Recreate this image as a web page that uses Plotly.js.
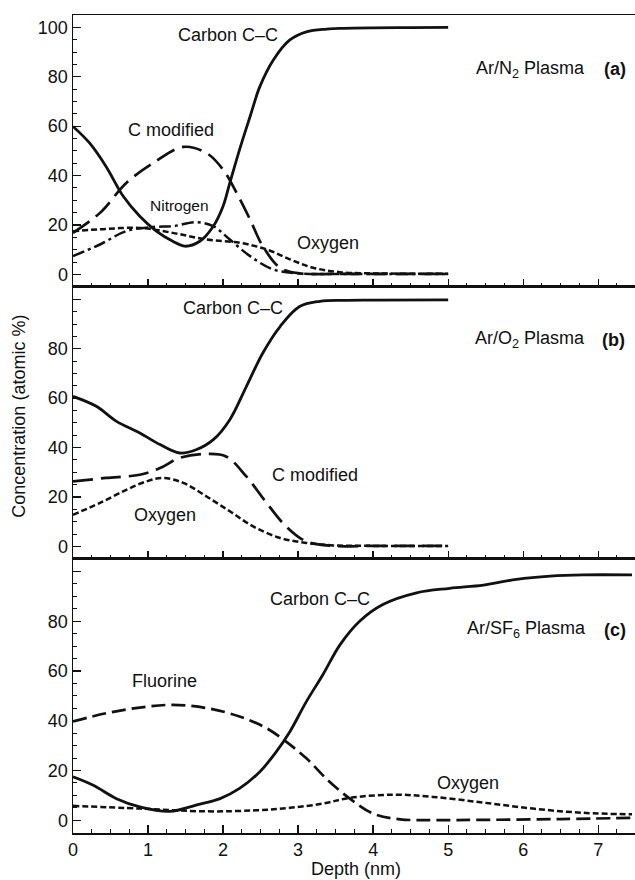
<!DOCTYPE html>
<html>
<head>
<meta charset="utf-8">
<script src="https://cdn.plot.ly/plotly-3.0.1.min.js"></script>
<style>html,body{margin:0;padding:0;background:#fff;}#chart{width:635px;height:880px;}</style>
</head>
<body>
<div id="chart"></div>
<script>
// ---------- Panel (a) Ar/N2 plasma ----------
const aCarbonX = [0, 0.22, 0.44, 0.67, 0.89, 1.11, 1.33, 1.49, 1.69, 1.87, 2.0, 2.09, 2.22, 2.36, 2.49, 2.67, 2.89, 3.11, 3.38, 3.6, 4.0, 4.5, 5.0];
const aCarbonY = [59.9, 53.2, 43.7, 31.6, 23.5, 17.5, 13.4, 11.4, 13.4, 19.5, 27.6, 37, 50.5, 63.9, 76, 86.8, 94.9, 98.2, 99.3, 99.6, 99.8, 99.9, 100];
const aCmodX = [0, 0.36, 0.71, 1.07, 1.47, 1.78, 2.0, 2.18, 2.36, 2.53, 2.76, 3.02, 3.5, 4.0, 5.0];
const aCmodY = [16.8, 24.9, 37, 45.1, 51.6, 49.1, 42.4, 33, 22.2, 11.4, 2.7, 0.4, 0.2, 0.2, 0.2];
const aNitrogenX = [0, 0.36, 0.71, 1.07, 1.33, 1.64, 1.87, 2.09, 2.36, 2.67, 3.02, 3.5, 4.0, 5.0];
const aNitrogenY = [7.4, 12.1, 17.5, 19.2, 19.5, 21.1, 19.5, 14.1, 7.4, 2, 0.4, 0.2, 0.2, 0.2];
const aOxygenX = [0, 0.44, 0.89, 1.33, 1.78, 2.22, 2.58, 2.89, 3.2, 3.56, 4.0, 4.5, 5.0];
const aOxygenY = [17.5, 18.4, 18.8, 16.8, 14.1, 12.8, 10.1, 6.1, 2.7, 0.9, 0.4, 0.3, 0.3];

// ---------- Panel (b) Ar/O2 plasma ----------
const bCarbonX = [0, 0.31, 0.58, 0.89, 1.16, 1.42, 1.64, 1.87, 2.09, 2.31, 2.53, 2.76, 3.02, 3.29, 3.6, 4.0, 5.0];
const bCarbonY = [60.7, 56.7, 50.6, 45.9, 41.2, 37.8, 39.1, 43.2, 51.3, 64.7, 78.3, 89, 97.1, 99.2, 99.6, 99.7, 99.8];
const bCmodX = [0, 0.44, 0.89, 1.16, 1.42, 1.78, 2.04, 2.31, 2.58, 2.84, 3.11, 3.47, 4.0, 5.0];
const bCmodY = [26.3, 27.7, 29, 31.7, 35.8, 37.4, 36.4, 28.3, 17.6, 8.1, 2, 0.2, 0.2, 0.2];
const bOxygenX = [0, 0.36, 0.71, 0.98, 1.2, 1.47, 1.78, 2.09, 2.4, 2.76, 3.11, 3.47, 4.0, 5.0];
const bOxygenY = [12.8, 17.6, 22.9, 26.3, 27.7, 25.7, 20.2, 14.2, 8.1, 3.4, 1.4, 0.4, 0.2, 0.2];

// ---------- Panel (c) Ar/SF6 plasma ----------
const cCarbonX = [0, 0.27, 0.58, 0.89, 1.29, 1.64, 1.96, 2.22, 2.49, 2.71, 2.89, 3.11, 3.33, 3.56, 3.82, 4.13, 4.58, 5.02, 5.47, 5.91, 6.36, 6.8, 7.45];
const cCarbonY = [17.5, 14.1, 8.7, 5.4, 3.6, 6.1, 8.7, 12.8, 19.5, 27.6, 35.6, 47.7, 58.5, 70.6, 80, 86.7, 91.4, 93.2, 94.5, 96.8, 98.1, 98.6, 98.6];
const cFluorineX = [0, 0.44, 0.89, 1.33, 1.78, 2.22, 2.58, 2.84, 3.11, 3.4, 3.69, 4.0, 4.36, 4.8, 5.5, 6.5, 7.45];
const cFluorineY = [39.7, 43, 45.3, 46.4, 45.1, 41.7, 37, 31.6, 24.9, 16, 8.7, 2.7, 0.4, 0.1, 0.2, 0.5, 1.0];
const cOxygenX = [0, 0.89, 1.78, 2.44, 2.89, 3.33, 3.69, 4.27, 4.8, 5.47, 6.13, 6.8, 7.45];
const cOxygenY = [5.8, 4.7, 3.6, 4, 5, 6.7, 9, 10.3, 9.4, 7.1, 4.7, 3.0, 2.4];

const yTickVals = [0, 20, 40, 60, 80, 100];
const yTickTextFull = ['0', '20', '40', '60', '80', '100'];
const yTickTextNo100 = ['0', '20', '40', '60', '80', ''];

const FONT = 'Liberation Sans, Arial, Helvetica, sans-serif';
const solid = {color: '#111', width: 2.8, shape: 'spline', smoothing: 1};
const longDash = {color: '#111', width: 2.7, dash: '20px,8px', shape: 'spline', smoothing: 1};
const dashDot = {color: '#111', width: 2.5, dash: '12px,4px,3px,4px', shape: 'spline', smoothing: 1};
const shortDash = {color: '#111', width: 2.5, dash: '6px,3px', shape: 'spline', smoothing: 1};
const midDash = {color: '#111', width: 2.7, dash: '14px,6px', shape: 'spline', smoothing: 1};

function tr(x, y, line, xa, ya) {
  return {x: x, y: y, type: 'scatter', mode: 'lines', line: line, xaxis: xa, yaxis: ya, showlegend: false, hoverinfo: 'skip'};
}

const data = [
  tr(aCarbonX, aCarbonY, solid, 'x3', 'y3'),
  tr(aCmodX, aCmodY, longDash, 'x3', 'y3'),
  tr(aNitrogenX, aNitrogenY, dashDot, 'x3', 'y3'),
  tr(aOxygenX, aOxygenY, shortDash, 'x3', 'y3'),
  tr(bCarbonX, bCarbonY, solid, 'x2', 'y2'),
  tr(bCmodX, bCmodY, longDash, 'x2', 'y2'),
  tr(bOxygenX, bOxygenY, shortDash, 'x2', 'y2'),
  tr(cCarbonX, cCarbonY, solid, 'x', 'y'),
  tr(cFluorineX, cFluorineY, midDash, 'x', 'y'),
  tr(cOxygenX, cOxygenY, shortDash, 'x', 'y')
];

function xAxis(anchor, labels) {
  const ax = {
    anchor: anchor, range: [0, 7.49], dtick: 1, tick0: 0, tickmode: 'linear',
    ticks: 'inside', ticklen: 8, tickwidth: 1.3, tickcolor: '#111',
    minor: {ticks: 'inside', ticklen: 4, tickwidth: 1, dtick: 0.25, tick0: 0, tickcolor: '#111', showgrid: false},
    showticklabels: labels, tickfont: {family: FONT, size: 18, color: '#111'},
    showline: true, mirror: true, linecolor: '#111', linewidth: 1.5,
    showgrid: false, zeroline: false
  };
  if (anchor !== 'y') ax.matches = 'x';
  return ax;
}
function yAxis(domain, texts, anchor) {
  return {
    domain: domain, range: [-5.1, 105], tickmode: 'array', tickvals: yTickVals, ticktext: texts,
    ticks: 'inside', ticklen: 8, tickwidth: 1.3, tickcolor: '#111',
    minor: {ticks: 'inside', ticklen: 4, tickwidth: 1, tickmode: 'linear', dtick: 5, tick0: 0, tickcolor: '#111', showgrid: false},
    tickfont: {family: FONT, size: 18, color: '#111'},
    showline: true, mirror: false, linecolor: '#111', linewidth: 1.5,
    showgrid: false, zeroline: false, anchor: anchor
  };
}

const layout = {
  width: 635, height: 880,
  margin: {l: 73, r: 0, t: 15, b: 47},
  paper_bgcolor: '#fff', plot_bgcolor: '#fff',
  font: {family: FONT, size: 18, color: '#111'},
  xaxis: xAxis('y', true),
  xaxis2: xAxis('y2', false),
  xaxis3: xAxis('y3', false),
  yaxis: yAxis([0, 0.335], yTickTextNo100, 'x'),
  yaxis2: yAxis([0.335, 0.6675], yTickTextNo100, 'x2'),
  yaxis3: yAxis([0.6675, 1], yTickTextFull, 'x3'),
  annotations: []
};

function ann(text, x, y, xa, ya, size, extra) {
  return Object.assign({text: text, x: x, y: y, xref: xa, yref: ya, showarrow: false,
    xanchor: 'center', yanchor: 'middle', font: {family: FONT, size: size, color: '#111'}}, extra || {});
}
layout.annotations.push(
  ann('Carbon C–C', 2.06, 96.9, 'x3', 'y3', 18),
  ann('C modified', 1.30, 58.5, 'x3', 'y3', 18),
  ann('Nitrogen', 1.42, 27.9, 'x3', 'y3', 15.5),
  ann('Oxygen', 3.40, 12.9, 'x3', 'y3', 18),
  ann('Ar/N<sub>2</sub> Plasma', 6.10, 83.1, 'x3', 'y3', 18),
  ann('<b>(a)</b>', 7.22, 83.1, 'x3', 'y3', 18),

  ann('Carbon C–C', 2.13, 96.5, 'x2', 'y2', 18),
  ann('C modified', 3.22, 29, 'x2', 'y2', 18),
  ann('Oxygen', 1.22, 12.5, 'x2', 'y2', 18),
  ann('Ar/O<sub>2</sub> Plasma', 6.09, 83.6, 'x2', 'y2', 18),
  ann('<b>(b)</b>', 7.21, 83.6, 'x2', 'y2', 18),

  ann('Carbon C–C', 3.29, 89, 'x', 'y', 18),
  ann('Fluorine', 1.22, 56, 'x', 'y', 18),
  ann('Oxygen', 5.27, 15, 'x', 'y', 18),
  ann('Ar/SF<sub>6</sub> Plasma', 6.04, 76.6, 'x', 'y', 18),
  ann('<b>(c)</b>', 7.22, 76.6, 'x', 'y', 18),

  ann('Concentration (atomic %)', -0.096, 0.509, 'paper', 'paper', 18, {textangle: -90}),
  ann('Depth (nm)', 0.504, -0.0575, 'paper', 'paper', 18, {yanchor: 'bottom', borderpad: 0})
);

Plotly.newPlot('chart', data, layout, {staticPlot: true, displayModeBar: false});
</script>
</body>
</html>
